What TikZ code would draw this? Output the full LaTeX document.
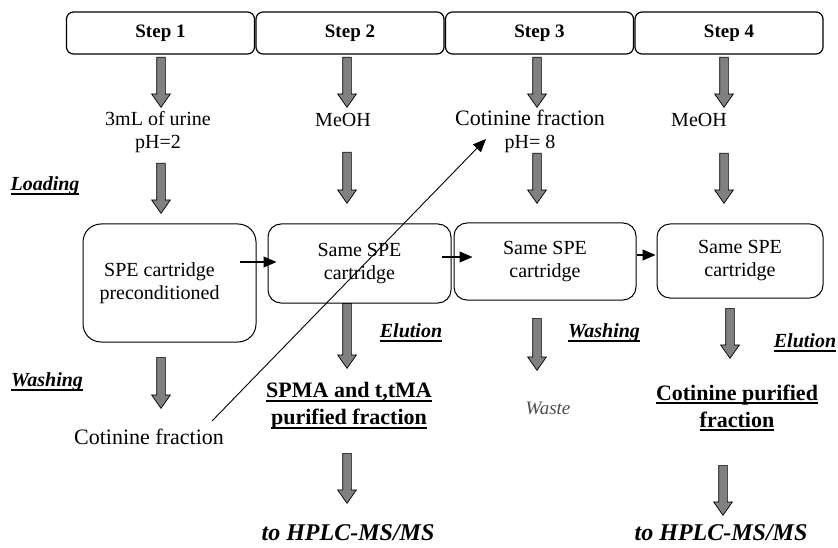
\documentclass[tikz,border=0pt]{standalone}
\usepackage{fontspec}
\setmainfont{Liberation Serif}
\usepackage{xcolor}
\usepackage{tikz}
\usetikzlibrary{positioning,arrows.meta,shapes.arrows}
\definecolor{arrowgray}{gray}{0.5}
\definecolor{wastegray}{gray}{0.3}
% underlined text with a rule of given thickness
\newcommand{\uln}[2][1.5pt]{\leavevmode\setbox0\hbox{#2}\rlap{\rule[-4pt]{\wd0}{#1}}\box0}

\begin{document}
\begin{tikzpicture}[x=1pt,y=-1pt,
  stepbox/.style={draw,line width=1.2pt,rounded corners=7pt,minimum width=188pt,minimum height=42pt,font=\fontsize{19}{22}\selectfont\bfseries},
  cartbox/.style={draw,line width=1pt,rounded corners=13pt,align=center,font=\fontsize{20}{23}\selectfont},
  garrow/.style={single arrow,draw=black,fill=arrowgray,line width=0.7pt,rotate=-90,anchor=tail,inner xsep=0pt,inner ysep=4pt,single arrow head extend=5pt,single arrow tip angle=70},
  lbl/.style={align=center,inner sep=1pt,font=\fontsize{20}{23}\selectfont},
  phase/.style={inner sep=1pt,font=\fontsize{20}{23}\selectfont\bfseries\itshape},
  res/.style={align=center,inner sep=1pt,font=\fontsize{22}{27}\selectfont\bfseries},
  hplc/.style={inner sep=1pt,font=\fontsize{24}{28}\selectfont\bfseries\itshape},
  link/.style={-{Triangle[length=13pt,width=11pt]},line width=1.1pt}]
\useasboundingbox (0,0) rectangle (838,548);
% step headers
\foreach \i/\x in {1/160.5,2/350,3/539.5,4/729}{ \node[stepbox] (s\i) at (\x,33) {Step \i};}
% gray block arrows: name/x/top/length
\foreach \n/\x/\y/\l in {a11/161/57/50,a12/161/163/50,a13/161/357/51,a21/347/57/50,a22/347/152/51,a23/347/303/65,a24/347/453/50,a31/537/57/50,a32/537/153/50,a33/537/318/52,a41/724/57/50,a42/724/153/50,a43/730/308/50,a44/723/465/50}{
  \node[garrow,minimum height=\l pt] (\n) at (\x,\y) {};}
% inputs
\node[lbl] (urine) at (158,132) {3mL of urine\\pH=2};
\node[lbl] (meoh2) at (343,120) {MeOH};
\node[lbl] (cot3) at (530,131) {{\fontsize{22}{23}\selectfont Cotinine fraction}\\pH= 8};
\node[lbl] (meoh4) at (699,120) {MeOH};
% cartridges
\node[cartbox,minimum width=173pt,minimum height=118pt,rounded corners=18pt] (c1) at (169.5,283) {SPE cartridge\hspace*{20pt}\\preconditioned\hspace*{20pt}};
\node[cartbox,minimum width=183pt,minimum height=79pt] (c2) at (359.5,263.5) {Same SPE\\cartridge};
\node[cartbox,minimum width=182pt,minimum height=77pt] (c3) at (545,261.5) {Same SPE\\cartridge};
\node[cartbox,minimum width=166pt,minimum height=74pt] (c4) at (740,261) {Same SPE\\cartridge};
\draw[link] ([shift={(-17,-21)}]c1.east) -- ([shift={(9,-1.5)}]c2.west);
\draw[link] ([shift={(-10,-6.5)}]c2.east) -- ([shift={(19,-4.5)}]c3.west);
\draw[link] ([shift={(0,-6.5)}]c3.east) -- ([shift={(-1,-6)}]c4.west);
% phase labels
\node[phase] (load) at (45,186) {\uln{Loading}};
\node[phase] (wash1) at (47,382) {\uln{Washing}};
\node[phase] (elu2) at (411,333) {\uln{Elution}};
\node[phase] (wash3) at (604,333) {\uln{Washing}};
\node[phase] (elu4) at (805,343) {\uln{Elution}};
% outputs
\node[lbl,font=\fontsize{22}{26}\selectfont] (cf1) at (149,437) {Cotinine fraction};
\node[res] (spma) at (349,406) {\uln[2pt]{SPMA and t,tMA}\\\uln[2pt]{purified fraction}};
\node[lbl,font=\fontsize{19}{22}\selectfont\itshape,text=wastegray] (waste) at (548,408) {Waste};
\node[res] (cotp) at (737,408) {\uln[2pt]{Cotinine purified}\\\uln[2pt]{fraction}};
\node[hplc] (ms2) at (348,533) {to HPLC-MS/MS};
\node[hplc] (ms4) at (721,533) {to HPLC-MS/MS};
% cotinine fraction goes back to step 3
\draw[link,line width=0.9pt] ([shift={(-13,-7)}]cf1.north east) -- ([shift={(32,8)}]cot3.west);
\end{tikzpicture}
\end{document}
